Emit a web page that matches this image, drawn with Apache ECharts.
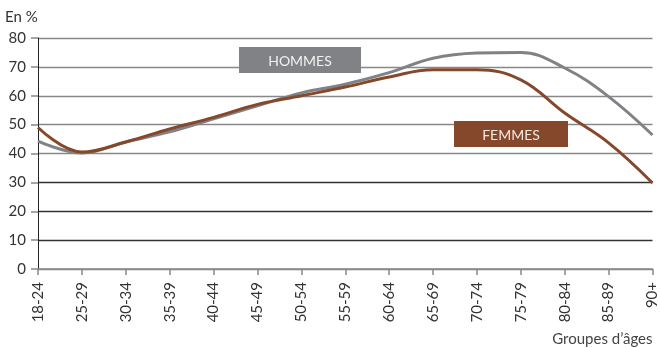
<!DOCTYPE html>
<html>
<head>
<meta charset="utf-8">
<script src="https://cdn.jsdelivr.net/npm/echarts@6/dist/echarts.min.js"></script>
<style>
  html, body { margin: 0; padding: 0; background: #fff; }
  #chart { width: 660px; height: 348px; }
</style>
</head>
<body>
<div id="chart"></div>
<script>
// Age groups on the horizontal axis
const ageGroups = ['18-24', '25-29', '30-34', '35-39', '40-44', '45-49', '50-54', '55-59',
                   '60-64', '65-69', '70-74', '75-79', '80-84', '85-89', '90+'];
// Share (in %) for men and women by age group
const hommes = [44.3, 40.2, 44, 47.5, 52, 56.5, 61, 64, 68, 73, 74.8, 75, 69.6, 59.7, 46.4];
const femmes = [49, 40.5, 44, 48.5, 52.5, 57, 60, 63, 66.5, 69, 69, 65.5, 54, 43.7, 29.8];

const GREY = '#808285';
const BROWN = '#85482a';
const FONT = 'Lato, "Noto Sans", sans-serif';

const chart = echarts.init(document.getElementById('chart'));
chart.setOption({
  animation: false,
  grid: { left: 38, right: 6, top: 38, bottom: 79 },
  xAxis: {
    type: 'category',
    data: ageGroups,
    boundaryGap: false,
    name: 'Groupes d’âges',
    nameLocation: 'end',
    nameGap: 0,
    nameTextStyle: { color: '#444', fontFamily: FONT, fontSize: 15, align: 'right', verticalAlign: 'top', padding: [63, 0, 0, 0] },
    axisLine: { lineStyle: { color: '#888', width: 1.5 } },
    axisTick: { alignWithLabel: true, length: 6, lineStyle: { color: '#888', width: 1.5 } },
    axisLabel: { rotate: 90, color: '#333', fontFamily: FONT, fontSize: 15, margin: 13, interval: 0 }
  },
  yAxis: {
    type: 'value',
    min: 0, max: 80, interval: 10,
    name: 'En %',
    nameLocation: 'end',
    nameGap: 13,
    nameTextStyle: { color: '#333', fontFamily: FONT, fontSize: 15, align: 'left', padding: [0, 0, 0, -33] },
    axisLine: { show: true, lineStyle: { color: '#222', width: 1 } },
    axisTick: { show: true, length: 7, lineStyle: { color: '#888', width: 1.5 } },
    axisLabel: { color: '#333', fontFamily: FONT, fontSize: 15, margin: 12 },
    splitLine: {
      lineStyle: {
        color: ['#888', '#333', '#333', '#333', '#888', '#888', '#888', '#888', '#888'],
        width: 1.3
      }
    }
  },
  series: [
    {
      name: 'HOMMES', type: 'line', data: hommes, smooth: 0.4,
      symbol: 'none', lineStyle: { color: GREY, width: 3 }, z: 3
    },
    {
      name: 'FEMMES', type: 'line', data: femmes, smooth: 0.4,
      symbol: 'none', lineStyle: { color: BROWN, width: 3 }, z: 4
    }
  ],
  graphic: [
    { type: 'rect', z: 10, shape: { x: 239, y: 47, width: 122, height: 26 }, style: { fill: GREY } },
    { type: 'text', z: 11, style: { x: 300, y: 61, text: 'HOMMES', fill: '#f2f2f2', font: '14px ' + FONT, align: 'center', verticalAlign: 'middle' } },
    { type: 'rect', z: 10, shape: { x: 454, y: 121, width: 114, height: 26 }, style: { fill: BROWN } },
    { type: 'text', z: 11, style: { x: 511, y: 135, text: 'FEMMES', fill: '#f2e8e2', font: '14px ' + FONT, align: 'center', verticalAlign: 'middle' } }
  ]
});
</script>
</body>
</html>
